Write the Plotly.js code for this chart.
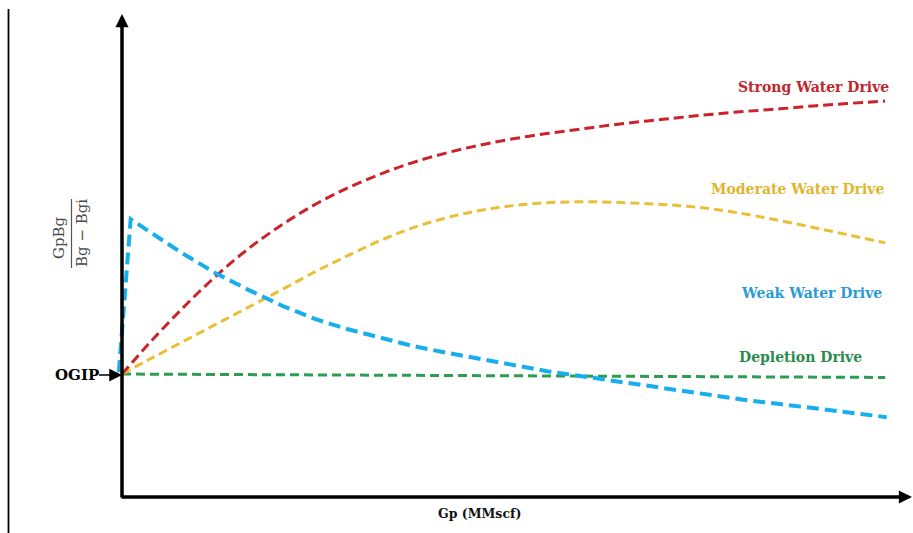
<!DOCTYPE html>
<html>
<head>
<meta charset="utf-8">
<script src="https://cdn.plot.ly/plotly-3.0.1.min.js"></script>
<style>
  html, body { margin: 0; padding: 0; background: #ffffff; }
  #chart { width: 913px; height: 533px; }
</style>
</head>
<body>
<div id="chart"></div>
<script>
// Cumulative gas production (arbitrary units along the Gp axis)
const gpGrid = [0, 3.3, 7.6, 11.8, 16.0, 20.3, 24.4, 28.5, 32.7, 36.8, 41.1, 45.3,
                49.5, 53.8, 58.0, 62.2, 66.5, 70.6, 74.8, 79.1, 83.3, 87.5, 91.8, 96.6];

// GpBg / (Bg - Bgi) for each drive mechanism
const strongWater = [25.4, 31.5, 38.9, 45.5, 51.3, 56.3, 60.4, 63.8, 66.7, 69.1, 71.1, 72.7,
                     74.0, 75.1, 76.0, 76.9, 77.7, 78.4, 79.1, 79.7, 80.2, 80.8, 81.3, 81.8];
const moderateWater = [25.4, 28.3, 32.0, 35.6, 39.2, 42.9, 46.5, 49.8, 53.0, 55.6, 57.7, 59.2,
                       60.2, 60.8, 61.0, 60.9, 60.6, 60.2, 59.5, 58.4, 57.1, 55.7, 54.2, 52.5];

const weakGp = [-0.4, 1.1, 3.3, 7.6, 11.8, 16.0, 20.3, 24.4, 28.5, 32.7, 36.8, 41.1, 45.3,
                49.5, 53.8, 58.0, 62.2, 66.5, 70.6, 74.8, 79.1, 83.3, 87.5, 91.8, 96.8];
const weakWater = [25.8, 57.4, 55.0, 50.4, 46.3, 42.8, 39.5, 36.8, 34.7, 32.9, 31.2, 29.8, 28.5,
                   27.3, 26.0, 25.0, 24.0, 22.9, 21.9, 20.9, 20.0, 19.2, 18.4, 17.6, 16.5];

const depletionGp = [0, 28.5, 53.8, 79.1, 96.6];
const depletion = [25.4, 25.2, 25.0, 24.8, 24.7];

const ogip = 25.2;

const driveNames = ['Strong Water Drive', 'Moderate Water Drive', 'Weak Water Drive', 'Depletion Drive'];

// ---- page geometry (pixels) ----
const W = 913, H = 533;
const px = v => v / W;          // horizontal pixel -> paper
const py = v => 1 - v / H;      // vertical pixel -> paper
const ORIGIN_X = 122, ORIGIN_Y = 497;
const X_SCALE = 7.9, Y_SCALE = 4.84;   // pixels per unit

const dashed = (color, width, dash) => ({ color, width, dash });

const traces = [
  { x: depletionGp, y: depletion, name: driveNames[3], mode: 'lines',
    line: dashed('#2e9d52', 3, '9px,5px') },
  { x: gpGrid, y: moderateWater, name: driveNames[1], mode: 'lines',
    line: Object.assign(dashed('#e9bf33', 3, '9px,5px'), { shape: 'spline', smoothing: 1 }) },
  { x: gpGrid, y: strongWater, name: driveNames[0], mode: 'lines',
    line: Object.assign(dashed('#cc2229', 3, '10px,5px'), { shape: 'spline', smoothing: 1 }) },
  { x: weakGp, y: weakWater, name: driveNames[2], mode: 'lines',
    line: dashed('#17aeed', 4, '12px,6px') }
];

const serif = 'DejaVu Serif, Liberation Serif, serif';

function driveLabel(text, color, cx, cy) {
  return { xref: 'paper', yref: 'paper', x: px(cx), y: py(cy), xanchor: 'center', yanchor: 'middle',
           text: '<b>' + text + '</b>', showarrow: false,
           font: { family: serif, size: 14, color } };
}

const annotations = [
  driveLabel(driveNames[0], '#c1272d', 813, 87),
  driveLabel(driveNames[1], '#e0b52c', 797, 189),
  driveLabel(driveNames[2], '#2a9ad6', 811, 293),
  driveLabel(driveNames[3], '#2b8a4c', 800, 357),

  // y axis with arrow
  { xref: 'paper', yref: 'paper', x: px(ORIGIN_X), y: py(14), ax: 0, ay: ORIGIN_Y + 2 - 14,
    axref: 'pixel', ayref: 'pixel', text: '', showarrow: true,
    arrowhead: 2, arrowsize: 0.75, arrowwidth: 3.5, arrowcolor: '#000000', standoff: 0 },
  // x axis with arrow
  { xref: 'paper', yref: 'paper', x: px(916), y: py(ORIGIN_Y), ax: -(916 - ORIGIN_X + 2), ay: 0,
    axref: 'pixel', ayref: 'pixel', text: '', showarrow: true,
    arrowhead: 2, arrowsize: 0.75, arrowwidth: 3.5, arrowcolor: '#000000', standoff: 0 },

  // OGIP marker on the y axis
  { xref: 'x', yref: 'y', x: 0, y: ogip, ax: -45.5, ay: 0, axref: 'pixel', ayref: 'pixel',
    text: '<b>OGIP</b>', showarrow: true, arrowhead: 2, arrowsize: 1.7, arrowwidth: 1.5,
    arrowcolor: '#000000', standoff: 0, borderpad: 0,
    font: { family: serif, size: 15, color: '#000000' } },

  // axis titles
  { xref: 'paper', yref: 'paper', x: px(479), y: py(513), xanchor: 'center', yanchor: 'middle',
    text: '<b>Gp (MMscf)</b>', showarrow: false,
    font: { family: serif, size: 12.5, color: '#111111' } },
  { xref: 'paper', yref: 'paper', x: px(59), y: py(238), xanchor: 'center', yanchor: 'middle',
    text: 'GpBg', textangle: -90, showarrow: false,
    font: { family: serif, size: 15, color: '#4a4a4a' } },
  { xref: 'paper', yref: 'paper', x: px(82), y: py(233), xanchor: 'center', yanchor: 'middle',
    text: 'Bg\u00a0\u2212\u00a0Bgi', textangle: -90, showarrow: false,
    font: { family: serif, size: 15, color: '#4a4a4a' } }
];

const shapes = [
  // fraction bar of the y-axis title
  { type: 'line', xref: 'paper', yref: 'paper', x0: px(71.5), x1: px(71.5), y0: py(199), y1: py(268),
    line: { color: '#555555', width: 1.2 } },
  // frame line on the left edge
  { type: 'line', xref: 'paper', yref: 'paper', x0: px(8.5), x1: px(8.5), y0: py(9), y1: 0,
    line: { color: '#000000', width: 1.8 } }
];

const layout = {
  width: W, height: H,
  margin: { l: 0, r: 0, t: 0, b: 0, pad: 0 },
  paper_bgcolor: '#ffffff', plot_bgcolor: '#ffffff',
  showlegend: false,
  xaxis: { range: [-ORIGIN_X / X_SCALE, (W - ORIGIN_X) / X_SCALE], visible: false, fixedrange: true },
  yaxis: { range: [-(H - ORIGIN_Y) / Y_SCALE, ORIGIN_Y / Y_SCALE], visible: false, fixedrange: true },
  annotations, shapes
};

Plotly.newPlot('chart', traces, layout, { staticPlot: true, displayModeBar: false });
</script>
</body>
</html>
